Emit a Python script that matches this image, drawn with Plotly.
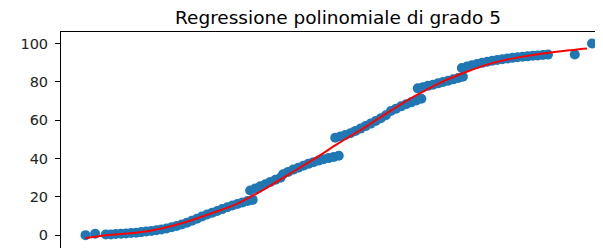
import plotly.graph_objects as go

# Observed data (x is an arbitrary index scale; x-axis labels are not visible)
x_points = [0, 1.9,
            4, 5, 6, 7, 8, 9, 10, 11, 12, 13, 14, 15, 16, 17, 18, 19, 20, 21, 22, 23, 24, 25, 26, 27, 28, 29, 30, 31, 32, 33,
            32.5, 33.5, 34.5, 35.5, 36.5, 37.5, 38.5,
            39, 40, 41, 42, 43, 44, 45, 46, 47, 48, 49, 50,
            49.3, 50.3, 51.3, 52.3, 53.3, 54.3, 55.3, 56.3, 57.3, 58.3, 59.3, 60.3, 61.3, 62.3, 63.3, 64.3, 65.3, 66.3,
            65.6, 66.6, 67.6, 68.6, 69.6, 70.6, 71.6, 72.6, 73.6, 74.5,
            74.3, 75.3, 76.3, 77.3, 78.3, 79.3, 80.3, 81.3, 82.3, 83.3, 84.3, 85.3, 86.3, 87.3, 88.3, 89.3, 90.3, 91.3,
            96.6, 100]
y_points = [0, 0.7,
            0.3, 0.4, 0.6, 0.7, 0.9, 1.1, 1.3, 1.6, 1.9, 2.2, 2.6, 3.0, 3.5, 4.1, 4.8, 5.6, 6.5, 7.5, 8.6, 9.8, 10.8, 11.7, 12.6, 13.6, 14.6, 15.5, 16.3, 17.1, 17.8, 18.4,
            23.3, 24.3, 25.5, 26.6, 27.8, 28.9, 30.0,
            31.8, 33.0, 34.2, 35.2, 36.2, 37.2, 38.1, 38.9, 39.6, 40.2, 40.8, 41.4,
            50.8, 51.5, 52.3, 53.2, 54.4, 55.6, 56.9, 58.2, 59.6, 61.0, 62.6, 64.8, 66.0, 67.2, 68.3, 69.3, 70.3, 71.2,
            76.6, 77.2, 77.9, 78.5, 79.2, 79.9, 80.6, 81.3, 82.0, 82.7,
            87.2, 88.0, 88.7, 89.3, 89.9, 90.5, 91.0, 91.4, 91.8, 92.2, 92.5, 92.8, 93.1, 93.3, 93.6, 93.8, 94.0, 94.2,
            94.3, 100]

# Degree-5 regression curve
x_fit = [0, 5, 10, 15, 20, 25, 30, 35, 40, 45, 50, 55, 60, 65, 70, 75, 80, 85, 90, 95, 99]
y_fit = [-1.5, 0.2, 1.2, 3.5, 7.0, 11.5, 16.5, 23.5, 31.5, 39.5, 48.0, 56.0, 64.5, 72.5, 79.5, 85.0, 89.5, 92.5, 94.7, 96.3, 97.4]

y_ticks = [0, 20, 40, 60, 80, 100]
title_text = "Regressione polinomiale di grado 5"

fig = go.Figure()
fig.add_trace(go.Scatter(x=x_points, y=y_points, mode="markers",
                         marker=dict(color="#1f77b4", size=10, line=dict(width=0)),
                         showlegend=False))
fig.add_trace(go.Scatter(x=x_fit, y=y_fit, mode="lines", line_shape="spline",
                         line=dict(color="#ff0000", width=2), showlegend=False))

# the page body adds an 8px offset; figure is sized/positioned to compensate
fig.update_layout(
    width=595, height=240,
    margin=dict(l=53, r=0, t=24, b=0, autoexpand=False),
    paper_bgcolor="white", plot_bgcolor="white",
    font=dict(family="DejaVu Sans", color="#000000"),
    title=dict(text=title_text, font=dict(family="DejaVu Sans", size=18.5, color="#000000"),
               xref="paper", x=0.511, xanchor="center",
               yref="container", y=1 - 9.5 / 240, yanchor="middle", automargin=False),
    xaxis=dict(range=[-4.84, 102.17], side="top", showline=True, linecolor="black", linewidth=1,
               ticks="", showticklabels=False, showgrid=False, zeroline=False, automargin=False),
    yaxis=dict(range=[-6.7, 106.0], showline=True, linecolor="black", linewidth=1,
               ticks="outside", ticklen=5, tickwidth=1, tickcolor="black",
               tickvals=y_ticks, ticktext=[str(v) for v in y_ticks],
               tickfont=dict(family="DejaVu Sans", size=14.5, color="#222222"),
               ticklabelstandoff=4,
               showgrid=False, zeroline=False, automargin=False),
)

fig.write_html("out.html")
